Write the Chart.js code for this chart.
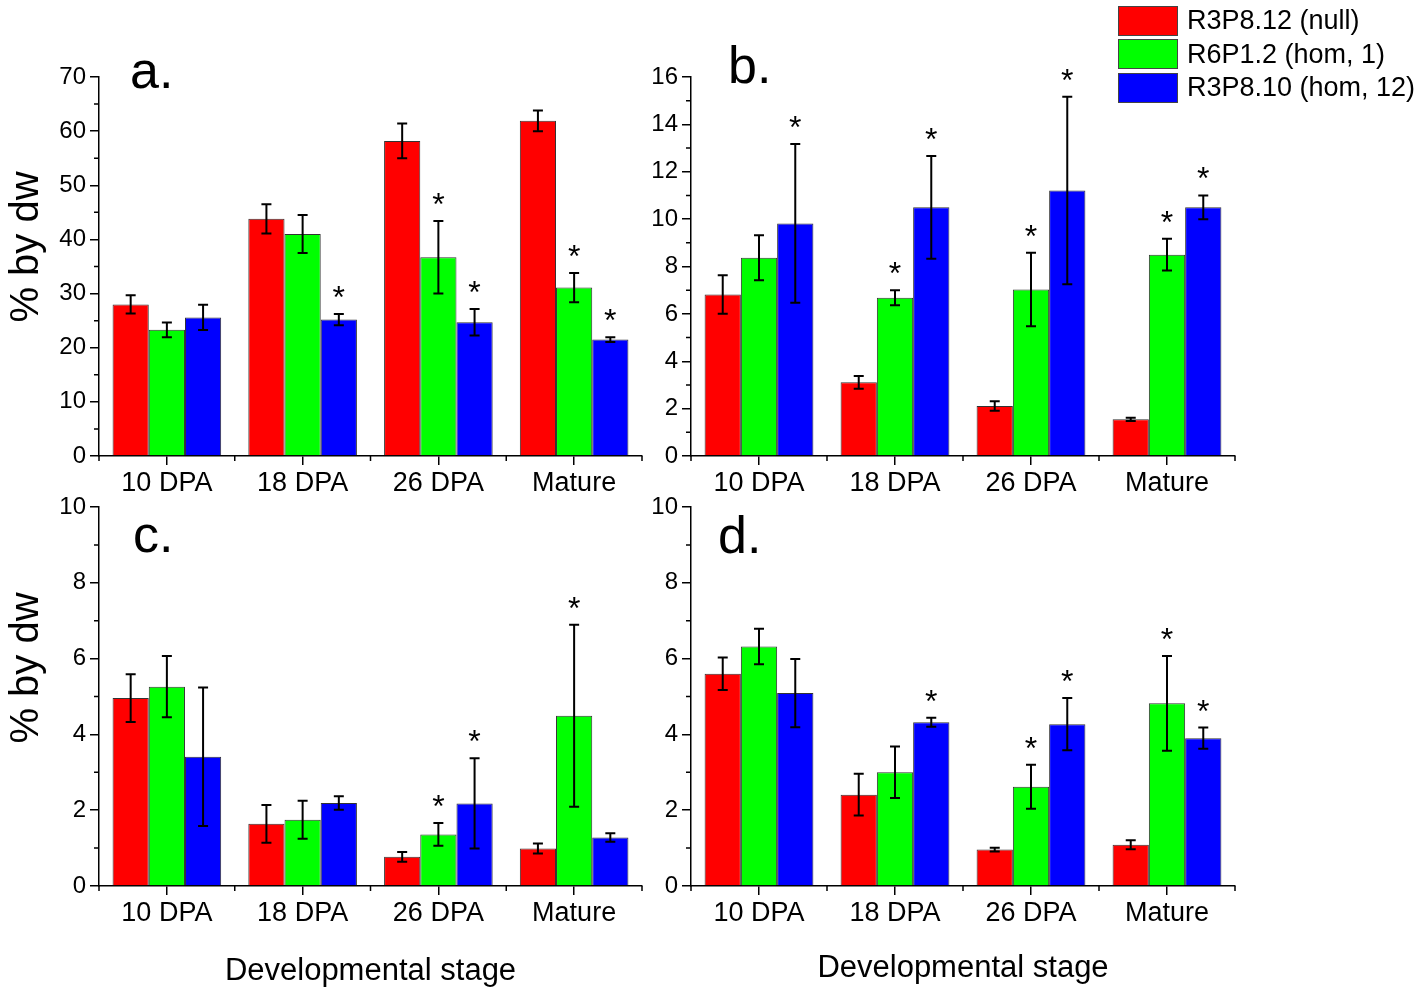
<!DOCTYPE html>
<html>
<head>
<meta charset="utf-8">
<script src="https://cdn.jsdelivr.net/npm/chart.js@4/dist/chart.umd.min.js"></script>
<style>
  body { margin: 0; background: #fff; }
  #wrap { position: relative; width: 1418px; height: 991px; overflow: hidden; font-family: "Liberation Sans", Arial, sans-serif; }
  canvas { position: absolute; }
  #legend { position: absolute; left: 1118px; top: 4px; }
  .row { display: flex; align-items: center; height: 33.5px; }
  .box { width: 58px; height: 28px; border: 1px solid #444; margin-right: 9px; }
  .row span { font-size: 27px; color: #000; white-space: nowrap; }
</style>
</head>
<body>
<div id="wrap">
  <canvas id="panel_a" width="660" height="500" style="left:0;top:0"></canvas>
  <canvas id="panel_b" width="788" height="500" style="left:630px;top:0"></canvas>
  <canvas id="panel_c" width="660" height="511" style="left:0;top:480px"></canvas>
  <canvas id="panel_d" width="788" height="511" style="left:630px;top:480px"></canvas>
  <div id="legend"></div>
</div>
<script>
const stages = ["10 DPA", "18 DPA", "26 DPA", "Mature"];
const lines = ["R3P8.12 (null)", "R6P1.2 (hom, 1)", "R3P8.10 (hom, 12)"];
const colors = ["#ff0000", "#00ff00", "#0000ff"];

// panel a
const a_null = [28.0, 43.8, 58.2, 61.9];
const a_null_err = [1.7, 2.7, 3.2, 1.9];
const a_hom1 = [23.3, 41.0, 36.7, 31.1];
const a_hom1_err = [1.35, 3.5, 6.7, 2.7];
const a_hom12 = [25.6, 25.2, 24.7, 21.5];
const a_hom12_err = [2.35, 1.05, 2.45, 0.45];
const a_stars = [[0, 0, 0, 0], [0, 0, 1, 1], [0, 1, 1, 1]];

// panel b
const b_null = [6.82, 3.11, 2.11, 1.55];
const b_null_err = [0.81, 0.27, 0.2, 0.07];
const b_hom1 = [8.37, 6.68, 7.03, 8.5];
const b_hom1_err = [0.95, 0.32, 1.55, 0.67];
const b_hom12 = [9.82, 10.5, 11.21, 10.5];
const b_hom12_err = [3.35, 2.17, 3.96, 0.5];
const b_stars = [[0, 0, 0, 0], [0, 1, 1, 1], [1, 1, 1, 1]];

// panel c
const c_null = [4.96, 1.64, 0.77, 0.99];
const c_null_err = [0.63, 0.5, 0.13, 0.13];
const c_hom1 = [5.26, 1.75, 1.36, 4.49];
const c_hom1_err = [0.81, 0.5, 0.3, 2.4];
const c_hom12 = [3.41, 2.19, 2.18, 1.28];
const c_hom12_err = [1.83, 0.18, 1.19, 0.11];
const c_stars = [[0, 0, 0, 0], [0, 0, 1, 1], [0, 0, 1, 0]];

// panel d
const d_null = [5.6, 2.41, 0.96, 1.09];
const d_null_err = [0.43, 0.55, 0.05, 0.12];
const d_hom1 = [6.32, 3.0, 2.62, 4.82];
const d_hom1_err = [0.47, 0.68, 0.58, 1.25];
const d_hom12 = [5.09, 4.32, 4.27, 3.9];
const d_hom12_err = [0.9, 0.12, 0.69, 0.28];
const d_stars = [[0, 0, 0, 0], [0, 0, 1, 1], [0, 1, 1, 1]];

const FONT = "'Liberation Sans', Arial, sans-serif";

// error bars, asterisks, minor ticks, panel letter and y title
const extras = {
  id: "extras",
  afterDatasetsDraw(chart) {
    const ctx = chart.ctx, y = chart.scales.y;
    chart.data.datasets.forEach((ds, i) => {
      chart.getDatasetMeta(i).data.forEach((bar, j) => {
        const v = ds.data[j], e = ds.err[j];
        const top = y.getPixelForValue(v + e), bot = y.getPixelForValue(v - e);
        ctx.save();
        ctx.strokeStyle = "#000";
        ctx.lineWidth = 2;
        ctx.beginPath();
        ctx.moveTo(bar.x, top); ctx.lineTo(bar.x, bot);
        ctx.moveTo(bar.x - 5, top); ctx.lineTo(bar.x + 5, top);
        ctx.moveTo(bar.x - 5, bot); ctx.lineTo(bar.x + 5, bot);
        ctx.stroke();
        if (ds.star[j]) {
          ctx.fillStyle = "#000";
          ctx.font = "32px " + FONT;
          ctx.textAlign = "center";
          ctx.textBaseline = "alphabetic";
          ctx.fillText("*", bar.x, top - 6);
        }
        ctx.restore();
      });
    });
  },
  afterDraw(chart, args, opts) {
    const ctx = chart.ctx, x = chart.scales.x, y = chart.scales.y;
    const area = chart.chartArea;
    ctx.save();
    ctx.strokeStyle = "#000";
    ctx.lineWidth = 1.5;
    ctx.beginPath();
    for (let v = y.min; v <= y.max; v += opts.minor) {
      if (Math.abs(v / opts.major - Math.round(v / opts.major)) < 1e-6) continue;
      const py = y.getPixelForValue(v);
      ctx.moveTo(area.left, py); ctx.lineTo(area.left - 5, py);
    }
    const half = (x.getPixelForValue(1) - x.getPixelForValue(0)) / 2;
    for (let i = 0; i <= stages.length; i++) {
      const px = x.getPixelForValue(i) - half;
      ctx.moveTo(px, area.bottom); ctx.lineTo(px, area.bottom + 5);
    }
    ctx.stroke();
    ctx.fillStyle = "#000";
    ctx.font = "52px " + FONT;
    ctx.textAlign = "left";
    ctx.textBaseline = "alphabetic";
    ctx.fillText(opts.letter, opts.letterX, opts.letterY);
    if (opts.yTitle) {
      ctx.translate(opts.yTitleX, opts.yTitleY);
      ctx.rotate(-Math.PI / 2);
      ctx.font = "40px " + FONT;
      ctx.textAlign = "center";
      ctx.textBaseline = "middle";
      ctx.fillText(opts.yTitle, 0, 0);
    }
    ctx.restore();
  }
};

function makePanel(id, series, errs, stars, yMax, step, minor, geom, extra) {
  return new Chart(id, {
    type: "bar",
    data: {
      labels: stages,
      datasets: series.map((s, i) => ({
        label: lines[i],
        data: s,
        err: errs[i],
        star: stars[i],
        backgroundColor: colors[i],
        borderColor: "#333",
        borderWidth: 1,
        categoryPercentage: 0.8,
        barPercentage: 1.0
      }))
    },
    options: {
      responsive: false,
      animation: false,
      devicePixelRatio: 1,
      layout: { padding: { top: geom.top, right: geom.right, left: 0, bottom: 0 } },
      plugins: {
        legend: { display: false },
        tooltip: { enabled: false },
        extras: Object.assign({ major: step, minor: minor }, extra)
      },
      scales: {
        x: {
          afterFit: (s) => { s.height = geom.xh; },
          grid: { offset: false, drawOnChartArea: false, drawTicks: true, tickLength: 9, color: "#000", lineWidth: 1.5 },
          border: { display: true, color: "#000", width: 1.5 },
          ticks: { color: "#000", font: { family: FONT, size: 27 }, padding: 2, maxRotation: 0 },
          title: geom.xTitle ? {
            display: true, text: geom.xTitle, color: "#000",
            font: { family: FONT, size: 31 }, padding: { top: 0, bottom: geom.titlePad }
          } : { display: false }
        },
        y: {
          min: 0, max: yMax,
          afterFit: (s) => { s.width = geom.yw; },
          grid: { drawOnChartArea: false, drawTicks: true, tickLength: 9, color: "#000", lineWidth: 1.5 },
          border: { display: true, color: "#000", width: 1.5 },
          ticks: { stepSize: step, color: "#000", font: { family: FONT, size: 24 }, padding: 4 }
        }
      }
    },
    plugins: [extras]
  });
}

makePanel("panel_a", [a_null, a_hom1, a_hom12], [a_null_err, a_hom1_err, a_hom12_err], a_stars, 70, 10, 5,
  { top: 77, right: 18, xh: 44, yw: 99 },
  { letter: "a.", letterX: 130, letterY: 88, yTitle: "% by dw", yTitleX: 27, yTitleY: 247 });

makePanel("panel_b", [b_null, b_hom1, b_hom12], [b_null_err, b_hom1_err, b_hom12_err], b_stars, 16, 2, 1,
  { top: 77, right: 183, xh: 44, yw: 61 },
  { letter: "b.", letterX: 98, letterY: 83 });

makePanel("panel_c", [c_null, c_hom1, c_hom12], [c_null_err, c_hom1_err, c_hom12_err], c_stars, 10, 2, 1,
  { top: 27, right: 18, xh: 105, yw: 99, xTitle: "Developmental stage", titlePad: 1 },
  { letter: "c.", letterX: 133, letterY: 72, yTitle: "% by dw", yTitleX: 27, yTitleY: 188 });

makePanel("panel_d", [d_null, d_hom1, d_hom12], [d_null_err, d_hom1_err, d_hom12_err], d_stars, 10, 2, 1,
  { top: 27, right: 183, xh: 105, yw: 61, xTitle: "Developmental stage", titlePad: 4 },
  { letter: "d.", letterX: 88, letterY: 73 });

const legend = document.getElementById("legend");
lines.forEach((name, i) => {
  const row = document.createElement("div");
  row.className = "row";
  row.innerHTML = '<div class="box" style="background:' + colors[i] + '"></div><span>' + name + "</span>";
  legend.appendChild(row);
});
</script>
</body>
</html>
